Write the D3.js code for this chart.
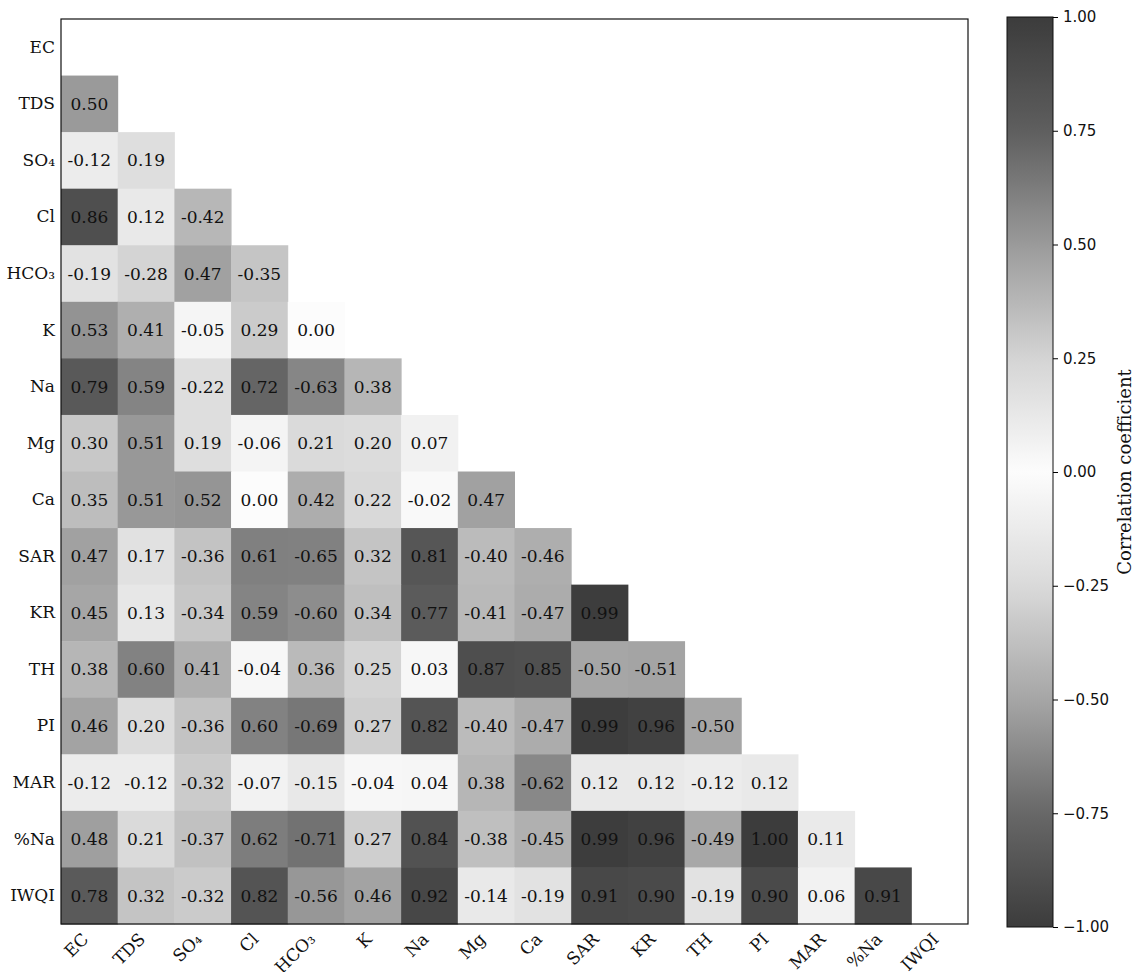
<!DOCTYPE html>
<html>
<head>
<meta charset="utf-8">
<script src="https://cdn.jsdelivr.net/npm/d3@7"></script>
<style>
  body { margin: 0; background: #fff; }
  svg text { fill: #111; }
</style>
</head>
<body>
<svg id="chart" width="1133" height="972"></svg>
<script>
const variables = ["EC","TDS","SO₄","Cl","HCO₃","K","Na","Mg","Ca","SAR","KR","TH","PI","MAR","%Na","IWQI"];
// lower triangle rows (row i has i values, columns 0..i-1)
const rowTDS  = [0.50];
const rowSO4  = [-0.12, 0.19];
const rowCl   = [0.86, 0.12, -0.42];
const rowHCO3 = [-0.19, -0.28, 0.47, -0.35];
const rowK    = [0.53, 0.41, -0.05, 0.29, 0.00];
const rowNa   = [0.79, 0.59, -0.22, 0.72, -0.63, 0.38];
const rowMg   = [0.30, 0.51, 0.19, -0.06, 0.21, 0.20, 0.07];
const rowCa   = [0.35, 0.51, 0.52, 0.00, 0.42, 0.22, -0.02, 0.47];
const rowSAR  = [0.47, 0.17, -0.36, 0.61, -0.65, 0.32, 0.81, -0.40, -0.46];
const rowKR   = [0.45, 0.13, -0.34, 0.59, -0.60, 0.34, 0.77, -0.41, -0.47, 0.99];
const rowTH   = [0.38, 0.60, 0.41, -0.04, 0.36, 0.25, 0.03, 0.87, 0.85, -0.50, -0.51];
const rowPI   = [0.46, 0.20, -0.36, 0.60, -0.69, 0.27, 0.82, -0.40, -0.47, 0.99, 0.96, -0.50];
const rowMAR  = [-0.12, -0.12, -0.32, -0.07, -0.15, -0.04, 0.04, 0.38, -0.62, 0.12, 0.12, -0.12, 0.12];
const rowPNa  = [0.48, 0.21, -0.37, 0.62, -0.71, 0.27, 0.84, -0.38, -0.45, 0.99, 0.96, -0.49, 1.00, 0.11];
const rowIWQI = [0.78, 0.32, -0.32, 0.82, -0.56, 0.46, 0.92, -0.14, -0.19, 0.91, 0.90, -0.19, 0.90, 0.06, 0.91];
const rows = [[], rowTDS, rowSO4, rowCl, rowHCO3, rowK, rowNa, rowMg, rowCa, rowSAR, rowKR, rowTH, rowPI, rowMAR, rowPNa, rowIWQI];
const cbTicks = [-1.00, -0.75, -0.50, -0.25, 0.00, 0.25, 0.50, 0.75, 1.00];

const cells = [];
rows.forEach((r, i) => r.forEach((v, j) => cells.push({row: variables[i], col: variables[j], v})));

const svg = d3.select("#chart");
const pLeft = 61, pRight = 968, pTop = 19, pBottom = 924;

const x = d3.scaleBand().domain(variables).range([pLeft, pRight]);
const y = d3.scaleBand().domain(variables).range([pTop, pBottom]);

const color = d3.scaleLinear()
  .domain([-1, -0.75, -0.5, -0.25, 0, 0.25, 0.5, 0.75, 1])
  .range(["#3c3c3c", "#686868", "#a6a6a6", "#dadada", "#fcfcfc", "#d4d4d4", "#9a9a9a", "#5e5e5e", "#3c3c3c"])
  .clamp(true);

const serif = "'DejaVu Serif', serif";
const sans = "'DejaVu Sans', sans-serif";

svg.append("g").selectAll("rect").data(cells).join("rect")
  .attr("x", d => x(d.col)).attr("y", d => y(d.row))
  .attr("width", x.bandwidth() + 0.5).attr("height", y.bandwidth() + 0.5)
  .attr("fill", d => color(d.v));

svg.append("g").selectAll("text").data(cells).join("text")
  .attr("x", d => x(d.col) + x.bandwidth() / 2)
  .attr("y", d => y(d.row) + y.bandwidth() / 2)
  .attr("text-anchor", "middle").attr("dominant-baseline", "central")
  .style("font-family", serif).style("font-size", "17px")
  .text(d => d.v.toFixed(2));

// frame
svg.append("rect").attr("x", pLeft).attr("y", pTop)
  .attr("width", pRight - pLeft).attr("height", pBottom - pTop)
  .attr("fill", "none").attr("stroke", "#111").attr("stroke-width", 1.2);

// y axis labels
const yAxis = d3.axisLeft(y).tickSize(0).tickPadding(6);
const gy = svg.append("g").attr("transform", `translate(${pLeft},0)`).call(yAxis);
gy.select(".domain").remove();
gy.selectAll("text").style("font-family", serif).style("font-size", "17px").attr("fill", "#111");

// x axis labels
const xAxis = d3.axisBottom(x).tickSize(0).tickPadding(0);
const gx = svg.append("g").attr("transform", `translate(0,${pBottom})`).call(xAxis);
gx.select(".domain").remove();
gx.selectAll("text")
  .style("font-family", serif).style("font-size", "17px").attr("fill", "#111")
  .attr("text-anchor", "end")
  .attr("x", 0).attr("y", 0)
  .attr("dy", "0.35em")
  .attr("transform", "translate(-4,12) rotate(-45)");

// colorbar
const cbX = 1007, cbW = 46, cbTop = 17, cbBottom = 927;
const cbScale = d3.scaleLinear().domain([-1, 1]).range([cbBottom, cbTop]);
const defs = svg.append("defs");
const grad = defs.append("linearGradient").attr("id", "cbgrad")
  .attr("x1", 0).attr("y1", 1).attr("x2", 0).attr("y2", 0);
d3.range(0, 1.0001, 0.02).forEach(t => {
  grad.append("stop").attr("offset", t).attr("stop-color", color(-1 + 2 * t));
});
svg.append("rect").attr("x", cbX).attr("y", cbTop).attr("width", cbW).attr("height", cbBottom - cbTop)
  .attr("fill", "url(#cbgrad)").attr("stroke", "#111").attr("stroke-width", 1);
const cbAxis = d3.axisRight(cbScale).tickValues(cbTicks).tickSize(5).tickPadding(5)
  .tickFormat(d => d3.format(".2f")(d).replace("-", "−"));
const gcb = svg.append("g").attr("transform", `translate(${cbX + cbW},0)`).call(cbAxis);
gcb.select(".domain").remove();
gcb.selectAll("text").style("font-family", sans).style("font-size", "15px").attr("fill", "#111");

svg.append("text")
  .attr("transform", `translate(1124,${(cbTop + cbBottom) / 2}) rotate(-90)`)
  .attr("text-anchor", "middle").attr("dominant-baseline", "central")
  .style("font-family", serif).style("font-size", "18px")
  .text("Correlation coefficient");
</script>
</body>
</html>
